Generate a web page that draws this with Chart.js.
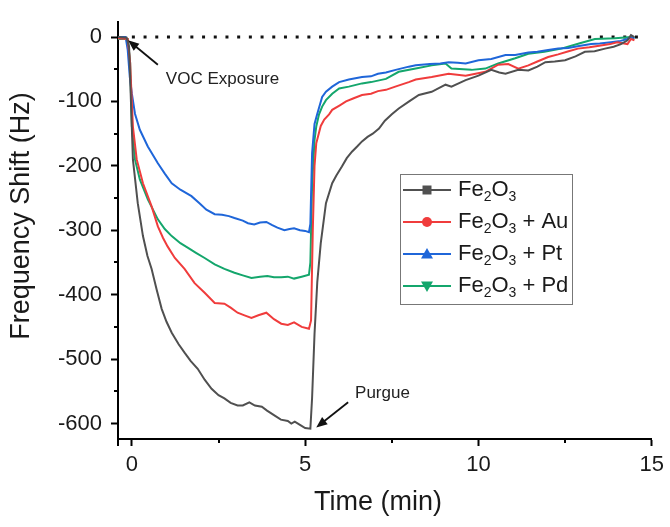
<!DOCTYPE html>
<html>
<head>
<meta charset="utf-8">
<script src="https://cdn.jsdelivr.net/npm/chart.js@4.4.1/dist/chart.umd.min.js"></script>
<style>
  html, body { margin:0; padding:0; background:#fff; }
  #wrap { width:670px; height:527px; }
</style>
</head>
<body>
<div id="wrap"><canvas id="qcm" width="670" height="527"></canvas></div>
<script>
// frequency shift (Hz) against time (min)
const fe2o3Time  = [-0.4,-0.15,-0.08,0.03,0.17,0.32,0.45,0.57,0.72,0.86,1.0,1.15,1.35,1.52,1.7,1.9,2.1,2.3,2.5,2.67,2.85,3.05,3.2,3.39,3.55,3.75,3.9,4.1,4.3,4.5,4.6,4.7,4.85,5.0,5.15,5.2,5.27,5.35,5.45,5.6,5.78,5.9,6.06,6.2,6.35,6.5,6.64,6.8,6.95,7.13,7.3,7.5,7.7,8.0,8.28,8.65,9.05,9.22,9.63,10.0,10.37,10.6,10.78,11.15,11.44,11.7,11.93,12.2,12.5,12.8,13.07,13.35,13.65,13.9,14.11,14.3,14.4,14.5];
const fe2o3Shift = [0,-1,-15,-190,-258,-309,-340,-360,-393,-422,-442,-459,-477,-490,-503,-515,-532,-546,-556,-561,-568,-572,-572,-567,-572,-574,-580,-587,-594,-596,-600,-597,-602,-607,-608,-560,-461,-380,-320,-258,-227,-215,-201,-188,-178,-170,-162,-155,-150,-142,-130,-120,-111,-100,-90,-85,-74,-77,-67,-60,-51,-55,-57,-51,-52,-46,-39,-38,-36,-30,-23,-22,-18,-15,-11,-5,3,0];

const auTime  = [-0.4,-0.12,-0.05,0.03,0.14,0.32,0.57,0.75,0.9,1.03,1.24,1.52,1.81,2.1,2.39,2.67,2.85,3.05,3.25,3.45,3.65,3.88,4.1,4.31,4.5,4.68,4.9,5.11,5.17,5.22,5.27,5.32,5.45,5.55,5.69,5.78,6.0,6.18,6.4,6.64,6.9,7.1,7.33,7.6,7.99,8.19,8.65,9.14,9.63,10.2,10.57,10.86,11.15,11.44,11.7,12.01,12.3,12.6,12.87,13.2,13.53,13.8,14.0,14.3,14.4,14.5];
const auShift = [-2,-3,-40,-139,-190,-227,-263,-294,-312,-325,-343,-360,-382,-397,-413,-414,-420,-428,-432,-436,-432,-428,-438,-445,-447,-443,-450,-453,-440,-300,-200,-165,-138,-128,-120,-113,-106,-100,-95,-90,-88,-84,-82,-77,-70,-66,-62,-57,-60,-54,-43,-42,-49,-44,-38,-31,-27,-22,-18,-16,-13,-11,-8,-11,-3,-5];

const ptTime  = [-0.4,-0.18,-0.12,-0.06,0.0,0.09,0.23,0.46,0.75,0.95,1.15,1.4,1.72,1.95,2.15,2.39,2.6,2.8,2.96,3.2,3.35,3.53,3.7,3.88,4.05,4.2,4.4,4.55,4.68,4.85,5.0,5.11,5.15,5.2,5.27,5.35,5.49,5.6,5.78,5.98,6.26,6.64,6.9,7.1,7.33,7.61,7.99,8.19,8.6,8.9,9.14,9.4,9.63,10.0,10.37,10.78,11.06,11.44,11.7,12.01,12.3,12.59,12.9,13.25,13.5,13.82,14.1,14.3,14.4,14.5];
const ptShift = [0,0,-20,-62,-88,-119,-144,-170,-196,-212,-227,-237,-247,-258,-268,-275,-276,-278,-281,-285,-289,-291,-288,-287,-292,-296,-300,-298,-297,-300,-301,-303,-290,-180,-135,-119,-93,-85,-77,-70,-66,-62,-61,-57,-55,-51,-46,-44,-42,-41,-39,-40,-41,-36,-34,-28,-28,-24,-23,-20,-18,-17,-14,-11,-10,-8,-6,-3,0,-2];

const pdTime  = [-0.4,-0.12,-0.05,0.0,0.09,0.23,0.46,0.75,0.95,1.15,1.4,1.61,1.85,2.1,2.39,2.67,2.96,3.2,3.45,3.7,3.91,4.1,4.31,4.5,4.68,4.9,5.11,5.15,5.2,5.27,5.32,5.4,5.49,5.6,5.78,5.98,6.26,6.64,6.9,7.33,7.7,8.19,8.65,9.05,9.22,9.8,10.2,10.57,11.06,11.44,11.9,12.39,12.9,13.36,13.94,14.4,14.5];
const pdShift = [-3,-3,-40,-139,-190,-221,-252,-283,-298,-309,-320,-327,-335,-343,-353,-360,-366,-370,-374,-372,-371,-373,-373,-372,-375,-372,-369,-350,-230,-160,-139,-120,-108,-98,-88,-80,-77,-72,-70,-65,-54,-49,-44,-41,-49,-51,-49,-41,-33,-26,-23,-18,-10,-3,-2,0,-2];

const seriesNames   = ['Fe2O3', 'Fe2O3 + Au', 'Fe2O3 + Pt', 'Fe2O3 + Pd'];
const seriesColors  = ['#505050', '#f03c3c', '#1f66d9', '#14a66c'];
const seriesMarkers = ['square', 'circle', 'triangle', 'triangleDown'];

const baselineTime  = [0, 14.6];
const baselineShift = [0, 0];

const xTicks = [0, 5, 10, 15];
const xMinorTicks = [2.5, 7.5, 12.5];
const yTicks = [0, -100, -200, -300, -400, -500, -600];
const yMinorTicks = [-50, -150, -250, -350, -450, -550];

const xTitle = 'Time (min)';
const yTitle = 'Frequency Shift (Hz)';

const FONT = '"Liberation Sans", Arial, sans-serif';
Chart.defaults.font.family = FONT;
Chart.defaults.color = '#1a1a1a';

const pts = (xs, ys) => xs.map((x, i) => ({ x: x, y: ys[i] }));

const seriesData = [
  pts(fe2o3Time, fe2o3Shift),
  pts(auTime, auShift),
  pts(ptTime, ptShift),
  pts(pdTime, pdShift)
];

const datasets = seriesData.map((d, i) => ({
  label: seriesNames[i],
  data: d,
  borderColor: seriesColors[i],
  borderWidth: 2,
  pointRadius: 0,
  tension: 0,
  fill: false
}));
datasets.push({
  label: 'baseline',
  data: pts(baselineTime, baselineShift),
  borderColor: '#111',
  borderWidth: 3,
  borderDash: [3, 8.7],
  pointRadius: 0
});

// annotations, anchored in data units
const notes = [
  { text: 'VOC Exposure', tx: 0.98, ty: -66, from: [0.75, -43], to: [-0.11, -5] },
  { text: 'Purgue', tx: 6.44, ty: -553, from: [6.24, -567], to: [5.32, -606] }
];

function drawArrow(ctx, x0, y0, x1, y1) {
  const a = Math.atan2(y1 - y0, x1 - x0), c = Math.cos(a), s = Math.sin(a);
  ctx.beginPath();
  ctx.moveTo(x0, y0);
  ctx.lineTo(x1 - 6 * c, y1 - 6 * s);
  ctx.stroke();
  ctx.beginPath();
  ctx.moveTo(x1, y1);
  ctx.lineTo(x1 - 11 * c + 4.5 * s, y1 - 11 * s - 4.5 * c);
  ctx.lineTo(x1 - 11 * c - 4.5 * s, y1 - 11 * s + 4.5 * c);
  ctx.closePath();
  ctx.fill();
}

function drawMarker(ctx, kind, x, y) {
  ctx.beginPath();
  if (kind === 'square') ctx.rect(x - 4.5, y - 4.5, 9, 9);
  else if (kind === 'circle') ctx.arc(x, y, 5, 0, Math.PI * 2);
  else if (kind === 'triangle') { ctx.moveTo(x, y - 6); ctx.lineTo(x + 6, y + 4.5); ctx.lineTo(x - 6, y + 4.5); }
  else { ctx.moveTo(x, y + 6); ctx.lineTo(x + 6, y - 4.5); ctx.lineTo(x - 6, y - 4.5); }
  ctx.closePath();
  ctx.fill();
}

// digits in the label are drawn as subscripts
function drawLabel(ctx, label, x, y) {
  label.split(/(\d)/).forEach(part => {
    if (!part) return;
    const sub = /^\d$/.test(part);
    ctx.font = (sub ? '14px ' : '22px ') + FONT;
    ctx.fillText(part, x, sub ? y + 7 : y);
    x += ctx.measureText(part).width;
  });
}

const extras = {
  id: 'extras',
  afterDraw(chart) {
    const ctx = chart.ctx, xs = chart.scales.x, ys = chart.scales.y;
    const area = chart.chartArea;
    ctx.save();

    // minor ticks, plus the little overshoot of the y axis below the x axis
    ctx.strokeStyle = '#000';
    ctx.lineWidth = 2;
    ctx.beginPath();
    yMinorTicks.forEach(v => {
      const py = Math.round(ys.getPixelForValue(v));
      ctx.moveTo(area.left, py); ctx.lineTo(area.left - 4, py);
    });
    xMinorTicks.forEach(v => {
      const px = Math.round(xs.getPixelForValue(v));
      ctx.moveTo(px, area.bottom); ctx.lineTo(px, area.bottom + 4);
    });
    ctx.moveTo(area.left, area.bottom); ctx.lineTo(area.left, area.bottom + 7);
    ctx.stroke();

    // axis titles
    ctx.fillStyle = '#1a1a1a';
    ctx.font = '27px ' + FONT;
    ctx.textAlign = 'center';
    ctx.textBaseline = 'middle';
    ctx.fillText(xTitle, 378, 503);
    ctx.save();
    ctx.translate(22, 216);
    ctx.rotate(-Math.PI / 2);
    ctx.fillText(yTitle, 0, 0);
    ctx.restore();

    // arrows and notes
    ctx.fillStyle = '#111';
    ctx.strokeStyle = '#111';
    ctx.lineWidth = 1.8;
    ctx.textAlign = 'left';
    notes.forEach(n => {
      drawArrow(ctx, xs.getPixelForValue(n.from[0]), ys.getPixelForValue(n.from[1]),
                     xs.getPixelForValue(n.to[0]), ys.getPixelForValue(n.to[1]));
      ctx.fillStyle = '#222';
      ctx.font = '17px ' + FONT;
      ctx.fillText(n.text, xs.getPixelForValue(n.tx), ys.getPixelForValue(n.ty));
      ctx.fillStyle = '#111';
    });

    // legend
    const lx = 400, ly = 174, lw = 172, lh = 130, row = 32;
    ctx.fillStyle = '#fff';
    ctx.fillRect(lx, ly, lw, lh);
    ctx.strokeStyle = '#777';
    ctx.lineWidth = 1;
    ctx.strokeRect(lx + 0.5, ly + 0.5, lw, lh);
    seriesNames.forEach((name, i) => {
      const cy = ly + 16 + i * row;
      ctx.strokeStyle = seriesColors[i];
      ctx.fillStyle = seriesColors[i];
      ctx.lineWidth = 2;
      ctx.beginPath();
      ctx.moveTo(lx + 3, cy); ctx.lineTo(lx + 51, cy);
      ctx.stroke();
      drawMarker(ctx, seriesMarkers[i], lx + 27, cy);
      ctx.fillStyle = '#1a1a1a';
      drawLabel(ctx, name, lx + 58, cy);
    });
    ctx.restore();
  }
};

new Chart(document.getElementById('qcm'), {
  type: 'line',
  data: { datasets: datasets },
  options: {
    responsive: false,
    animation: false,
    layout: { padding: { top: 20, right: 17, bottom: 0, left: 0 } },
    plugins: { legend: { display: false }, tooltip: { enabled: false } },
    scales: {
      x: {
        type: 'linear',
        min: -0.4,
        max: 15,
        afterBuildTicks: s => { s.ticks = xTicks.map(v => ({ value: v })); },
        afterFit: s => { s.height = 88; },
        border: { color: '#000', width: 2 },
        grid: { drawOnChartArea: false, tickLength: 7, tickWidth: 2, tickColor: '#000' },
        ticks: { font: { size: 22 }, padding: 6, maxRotation: 0, callback: v => String(v) }
      },
      y: {
        min: -624,
        max: 23,
        afterBuildTicks: s => { s.ticks = yTicks.map(v => ({ value: v })); },
        afterFit: s => { s.width = 118; },
        border: { color: '#000', width: 2 },
        grid: { drawOnChartArea: false, tickLength: 7, tickWidth: 2, tickColor: '#000' },
        ticks: { font: { size: 22 }, padding: 9, callback: v => String(v) }
      }
    }
  },
  plugins: [extras]
});
</script>
</body>
</html>
